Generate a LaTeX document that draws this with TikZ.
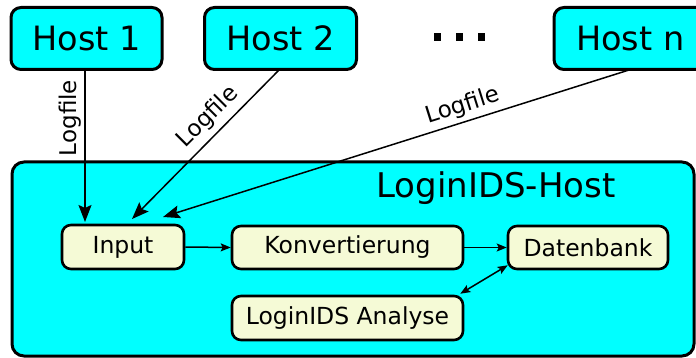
\documentclass[tikz,border=0pt]{standalone}
\usepackage{fontspec}
\setmainfont{DejaVu Sans}
\usetikzlibrary{arrows.meta}
\definecolor{hostcyan}{HTML}{00FFFF}
\definecolor{modfill}{HTML}{F5FAD6}
\tikzset{
  hostbox/.style={draw=black, line width=3pt, fill=hostcyan, rounded corners=10pt,
    inner sep=0pt, font=\fontsize{33.5}{33.5}\selectfont},
  modbox/.style={draw=black, line width=2.6pt, fill=modfill, rounded corners=9pt,
    inner sep=0pt, font=\fontsize{23.5}{23.5}\selectfont},
  logarrow/.style={line width=1.5pt, -{Stealth[length=17pt, width=13pt, inset=3pt]}},
  flowarrow/.style={line width=1.5pt, -{Stealth[length=10pt, width=8pt, inset=2pt]}},
  biarrow/.style={line width=1.5pt, {Stealth[length=10pt, width=8pt, inset=2pt]}-{Stealth[length=10pt, width=8pt, inset=2pt]}},
  loglabel/.style={font=\fontsize{23}{23}\selectfont, inner sep=0pt}
}
\begin{document}
\begin{tikzpicture}[x=1pt, y=-1pt]
\useasboundingbox (0,0) rectangle (696,358);

% host machines
\node[hostbox, minimum width=151pt, minimum height=62pt] (h1) at (86.5,38.5) {Host 1};
\node[hostbox, minimum width=152pt, minimum height=62pt] (h2) at (280.5,38.5) {Host 2};
\node[hostbox, minimum width=170pt, minimum height=62pt, text width=150pt, align=left] (hn) at (639,38.5) {\hspace*{12pt}Host n};

% ellipsis between hosts
\foreach \x in {437,459,481}
  \fill (\x-3.5,33.5) rectangle (\x+3.5,41.5);

% the LoginIDS host
\draw[line width=3pt, fill=hostcyan, rounded corners=12pt] (12,162) rectangle (694,356);
\node[font=\fontsize{34}{34}\selectfont, inner sep=0pt] (title) at (496,188) {LoginIDS-Host};

% processing modules
\node[modbox, minimum width=122pt, minimum height=44pt] (in) at (123,247) {Input};
\node[modbox, minimum width=231pt, minimum height=43pt] (konv) at (347.5,247.5) {Konvertierung};
\node[modbox, minimum width=160pt, minimum height=43pt] (db) at (588,247.5) {Datenbank};
\node[modbox, minimum width=231pt, minimum height=44pt] (ana) at (347.5,318) {LoginIDS Analyse};

% log transfer from the hosts
\coordinate (t1) at (85,222);
\coordinate (t2) at (132,219);
\coordinate (tn) at (163,217);
\coordinate (s1) at (85,70);
\coordinate (s2) at (279,70);
\coordinate (sn) at (629,70);
\draw[logarrow] (s1) -- (t1);
\draw[logarrow] (s2) -- (t2);
\draw[logarrow] (sn) -- (tn);
\node[loglabel, rotate=90] at (70,118) {Logfile};
\node[loglabel, rotate=45] at (208,117) {Logfile};
\node[loglabel, rotate=17.5] at (463,106) {Logfile};

% internal data flow
\draw[flowarrow] (in.east) -- (konv.west);
\draw[flowarrow] (konv.east) -- (db.west);
\path (ana.north east) ++(-4,-1) coordinate (a1) (db.south west) ++(1,-5) coordinate (d1);
\draw[biarrow] (a1) -- (d1);
\end{tikzpicture}
\end{document}
